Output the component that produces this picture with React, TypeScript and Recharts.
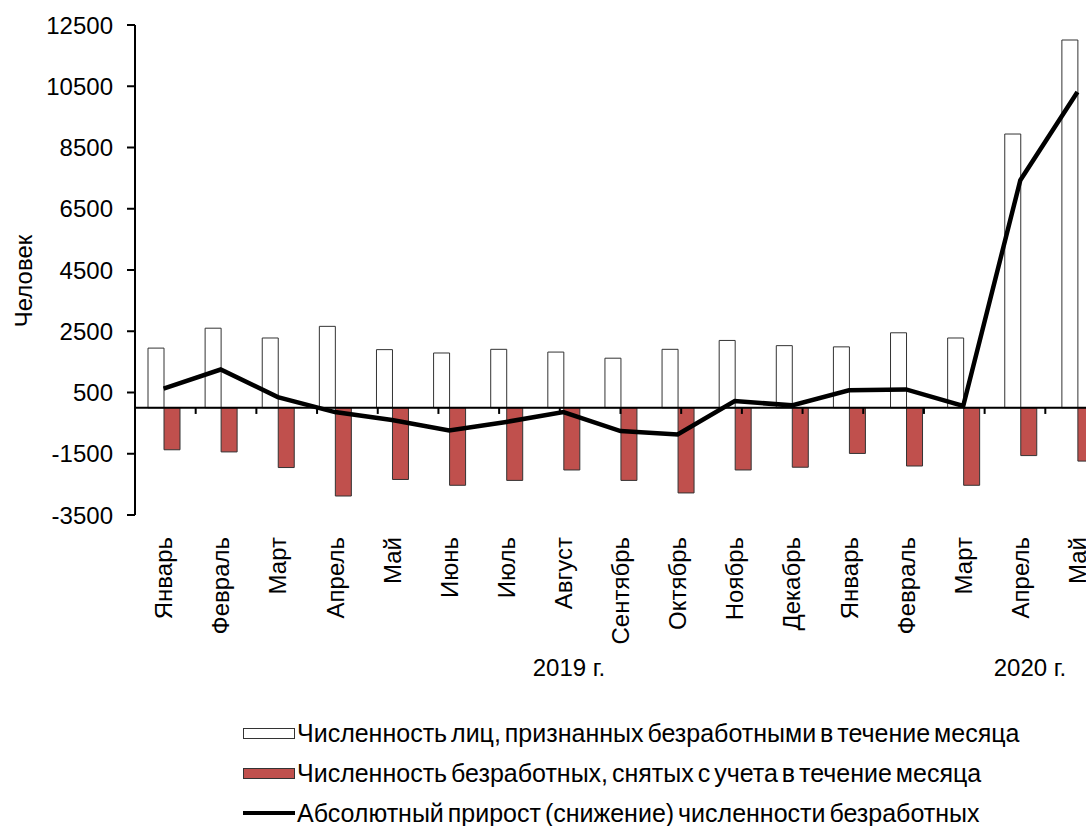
import React from 'react';
import {
  ComposedChart, Bar, Line, XAxis, YAxis, ReferenceLine, Legend, Customized,
} from 'recharts';

const months = ['Январь', 'Февраль', 'Март', 'Апрель', 'Май', 'Июнь', 'Июль', 'Август', 'Сентябрь', 'Октябрь', 'Ноябрь', 'Декабрь', 'Январь', 'Февраль', 'Март', 'Апрель', 'Май'];
const registered = [1950, 2600, 2280, 2660, 1900, 1790, 1910, 1820, 1620, 1910, 2200, 2030, 1990, 2450, 2280, 8940, 12010];
const removed = [-1370, -1440, -1950, -2880, -2340, -2530, -2370, -2030, -2370, -2780, -2030, -1940, -1490, -1900, -2530, -1560, -1740];
const netChange = [630, 1250, 350, -140, -400, -740, -460, -140, -760, -870, 220, 80, 570, 600, 60, 7430, 10310];
const yTicks = [-3500, -1500, 500, 2500, 4500, 6500, 8500, 10500, 12500];
const boundaries = [1, 2, 3, 4, 5, 6, 7, 8, 9, 10, 11, 12, 13, 14, 15, 16, 17];
const seriesNames = [
  'Численность лиц, признанных безработными в течение месяца',
  'Численность безработных, снятых с учета в течение месяца',
  'Абсолютный прирост (снижение) численности безработных',
];
const yearLabels = ['2019 г.', '2020 г.'];
const yAxisTitle = 'Человек';

const data = months.map((m, i) => ({
  month: m,
  registered: registered[i],
  removed: removed[i],
  net: netChange[i],
}));

const FONT = '"Liberation Sans", Arial, sans-serif';
const RED = '#C0504D';
const TICK_DEPTH = 200;

const XTick = (props: any) => {
  const { x, y, payload } = props;
  return (
    <text
      x={x}
      y={y}
      transform={`rotate(-90, ${x}, ${y})`}
      textAnchor="end"
      dy="0.36em"
      fontSize={24}
      fontFamily={FONT}
      fill="#000"
    >
      {payload.value}
    </text>
  );
};

const Extras = () => (
  <g fontFamily={FONT} fontSize={24} fill="#000">
    <text x={23} y={281} transform="rotate(-90, 23, 281)" textAnchor="middle" dy="0.36em">
      {yAxisTitle}
    </text>
    <text x={569} y={667} textAnchor="middle" dy="0.36em">{yearLabels[0]}</text>
    <text x={1030} y={667} textAnchor="middle" dy="0.36em">{yearLabels[1]}</text>
  </g>
);

const LegendContent = () => {
  const row: React.CSSProperties = {
    display: 'flex', alignItems: 'center', height: 40, whiteSpace: 'nowrap',
  };
  const text: React.CSSProperties = {
    fontFamily: FONT, fontSize: 25, color: '#000', marginLeft: 2, wordSpacing: -3,
  };
  return (
    <div>
      <div style={row}>
        <div style={{ width: 50, height: 9, border: '1px solid #333', background: '#fff' }} />
        <span style={text}>{seriesNames[0]}</span>
      </div>
      <div style={row}>
        <div style={{ width: 50, height: 9, border: '1px solid #333', background: RED }} />
        <span style={text}>{seriesNames[1]}</span>
      </div>
      <div style={row}>
        <div style={{ width: 52, height: 4, background: '#000' }} />
        <span style={text}>{seriesNames[2]}</span>
      </div>
    </div>
  );
};

export default function App() {
  return (
    <div style={{ position: 'absolute', left: 0, top: 0, width: 1086, height: 826, overflow: 'hidden', background: '#fff' }}>
      <ComposedChart
        width={1106}
        height={826}
        data={data}
        margin={{ top: 25, right: 0, bottom: 281, left: 0 }}
        barGap={0}
      >
        <XAxis
          dataKey="month"
          axisLine={false}
          tickLine={false}
          tickSize={0}
          tickMargin={22}
          interval={0}
          tick={<XTick />}
          height={30}
        />
        <XAxis xAxisId="num" type="number" domain={[0, 17]} allowDataOverflow hide />
        <YAxis
          width={135}
          domain={[-3500, 12500]}
          ticks={yTicks}
          interval={0}
          axisLine={{ stroke: '#000', strokeWidth: 2 }}
          tickLine={{ stroke: '#000', strokeWidth: 2 }}
          tickSize={8}
          tickMargin={14}
          tick={{ fill: '#000', fontSize: 24, fontFamily: FONT }}
        />
        <Bar dataKey="registered" barSize={16} fill="#fff" stroke="#333" strokeWidth={1} isAnimationActive={false} />
        <Bar dataKey="removed" barSize={16} fill={RED} stroke="#333" strokeWidth={1} isAnimationActive={false} />
        <ReferenceLine y={0} stroke="#000" strokeWidth={2} />
        {boundaries.map((b) => (
          <ReferenceLine
            key={b}
            xAxisId="num"
            segment={[{ x: b, y: 0 }, { x: b, y: -TICK_DEPTH }]}
            stroke="#000"
            strokeWidth={2}
          />
        ))}
        <Line
          dataKey="net"
          type="linear"
          stroke="#000"
          strokeWidth={4.5}
          dot={false}
          isAnimationActive={false}
        />
        <Customized component={<Extras />} />
        <Legend
          layout="vertical"
          align="center"
          verticalAlign="middle"
          content={<LegendContent />}
          wrapperStyle={{ left: 243, top: 713, width: 'auto', height: 'auto' }}
        />
      </ComposedChart>
    </div>
  );
}
